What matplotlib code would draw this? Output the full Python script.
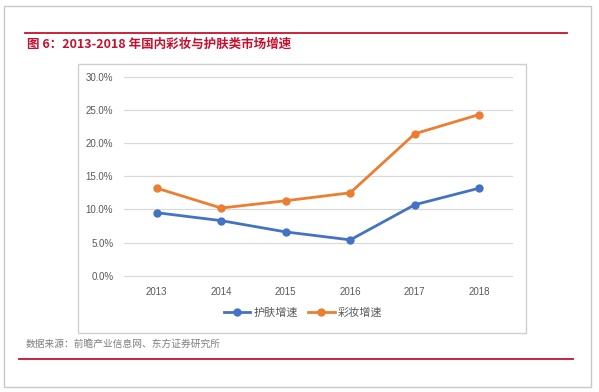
"""Figure 6: domestic cosmetics vs. skin care market growth, 2013-2018.

Re-drawn as a report-style panel: red title rule, boxed Excel-like line chart,
source note and a closing red rule.
"""

import matplotlib
matplotlib.use("Agg")
import matplotlib.pyplot as plt
from matplotlib.lines import Line2D
from matplotlib.patches import Rectangle
from matplotlib.ticker import PercentFormatter

OUT_PATH = "out.png"
W_PX, H_PX = 599, 392

YEARS = ["2013", "2014", "2015", "2016", "2017", "2018"]
SKINCARE = [9.5, 8.3, 6.6, 5.4, 10.7, 13.2]   # 护肤增速, %
MAKEUP = [13.2, 10.2, 11.3, 12.5, 21.4, 24.3]  # 彩妆增速, %
SERIES_NAMES = ["护肤增速", "彩妆增速"]
Y_TICKS = [0, 5, 10, 15, 20, 25, 30]

TITLE = "图 6：2013-2018 年国内彩妆与护肤类市场增速"
SOURCE = "数据来源：前瞻产业信息网、东方证券研究所"

BLUE = "#4472C4"
ORANGE = "#ED7D31"
RED = "#C8102E"
GRID = "#D9D9D9"
TICK_GRAY = "#595959"
FONTS = ["Liberation Sans", "Noto Sans CJK SC", "DejaVu Sans"]


def fx(px):
    return px / W_PX


def fy(py):
    return 1.0 - py / H_PX


def add_rect(fig, x0, y0, x1, y1, color):
    fig.patches.append(Rectangle(
        (fx(x0), fy(y1)), fx(x1) - fx(x0), fy(y0) - fy(y1),
        transform=fig.transFigure, fill=False, edgecolor=color, linewidth=1.0,
    ))


def add_hline(fig, x0, x1, y, color, lw):
    fig.lines.append(Line2D(
        [fx(x0), fx(x1)], [fy(y), fy(y)],
        transform=fig.transFigure, color=color, linewidth=lw,
    ))


def main():
    plt.rcParams["font.family"] = FONTS
    fig = plt.figure(figsize=(W_PX / 100, H_PX / 100), dpi=100)
    fig.patch.set_facecolor("white")

    # page frame, rules, chart box
    add_rect(fig, 3.5, 6, 590.5, 386.5, "#C8C8C8")
    add_hline(fig, 25, 567, 32.5, RED, 1.3)
    add_hline(fig, 19, 573, 359, RED, 1.3)
    add_rect(fig, 77.5, 63.5, 526, 332.5, "#D0D0D0")

    fig.text(fx(27), fy(44.5), TITLE, color=RED, fontsize=9, fontweight="bold",
             ha="left", va="center",
             family=["Noto Sans CJK SC", "DejaVu Sans"])
    fig.text(fx(26), fy(344), SOURCE, color="#7F7F7F", fontsize=7,
             ha="left", va="center",
             family=["Noto Sans CJK SC", "DejaVu Sans"])

    left, right, top, bottom = 124.4, 511.6, 76.7, 275.7
    ax = fig.add_axes([fx(left), fy(bottom), fx(right) - fx(left), fy(top) - fy(bottom)])
    x = list(range(len(YEARS)))
    for vals, color, name in [(SKINCARE, BLUE, SERIES_NAMES[0]),
                              (MAKEUP, ORANGE, SERIES_NAMES[1])]:
        ax.plot(x, vals, color=color, linewidth=2.0, marker="o",
                markersize=5, label=name, zorder=3)

    ax.set_xlim(-0.5, len(YEARS) - 0.5)
    ax.set_ylim(0, 30)
    ax.set_xticks(x)
    ax.set_xticklabels(YEARS)
    ax.set_yticks(Y_TICKS)
    ax.yaxis.set_major_formatter(PercentFormatter(decimals=1))
    ax.tick_params(axis="both", length=0, labelsize=7, labelcolor=TICK_GRAY)
    ax.tick_params(axis="x", pad=8)
    ax.tick_params(axis="y", pad=8)
    ax.grid(axis="y", color=GRID, linewidth=0.9)
    for gl in ax.get_ygridlines():
        gl.set_clip_on(False)
    ax.set_axisbelow(True)
    for s in ax.spines.values():
        s.set_visible(False)

    leg = fig.legend(
        loc="center", bbox_to_anchor=(fx(303), fy(312.5)), ncol=2,
        frameon=False, handlelength=2.4, handletextpad=0.3,
        columnspacing=0.9, prop={"family": ["Noto Sans CJK SC", "DejaVu Sans"], "size": 8},
    )
    for t in leg.get_texts():
        t.set_color(TICK_GRAY)

    fig.savefig(OUT_PATH, dpi=100)
    plt.close(fig)


if __name__ == "__main__":
    main()
